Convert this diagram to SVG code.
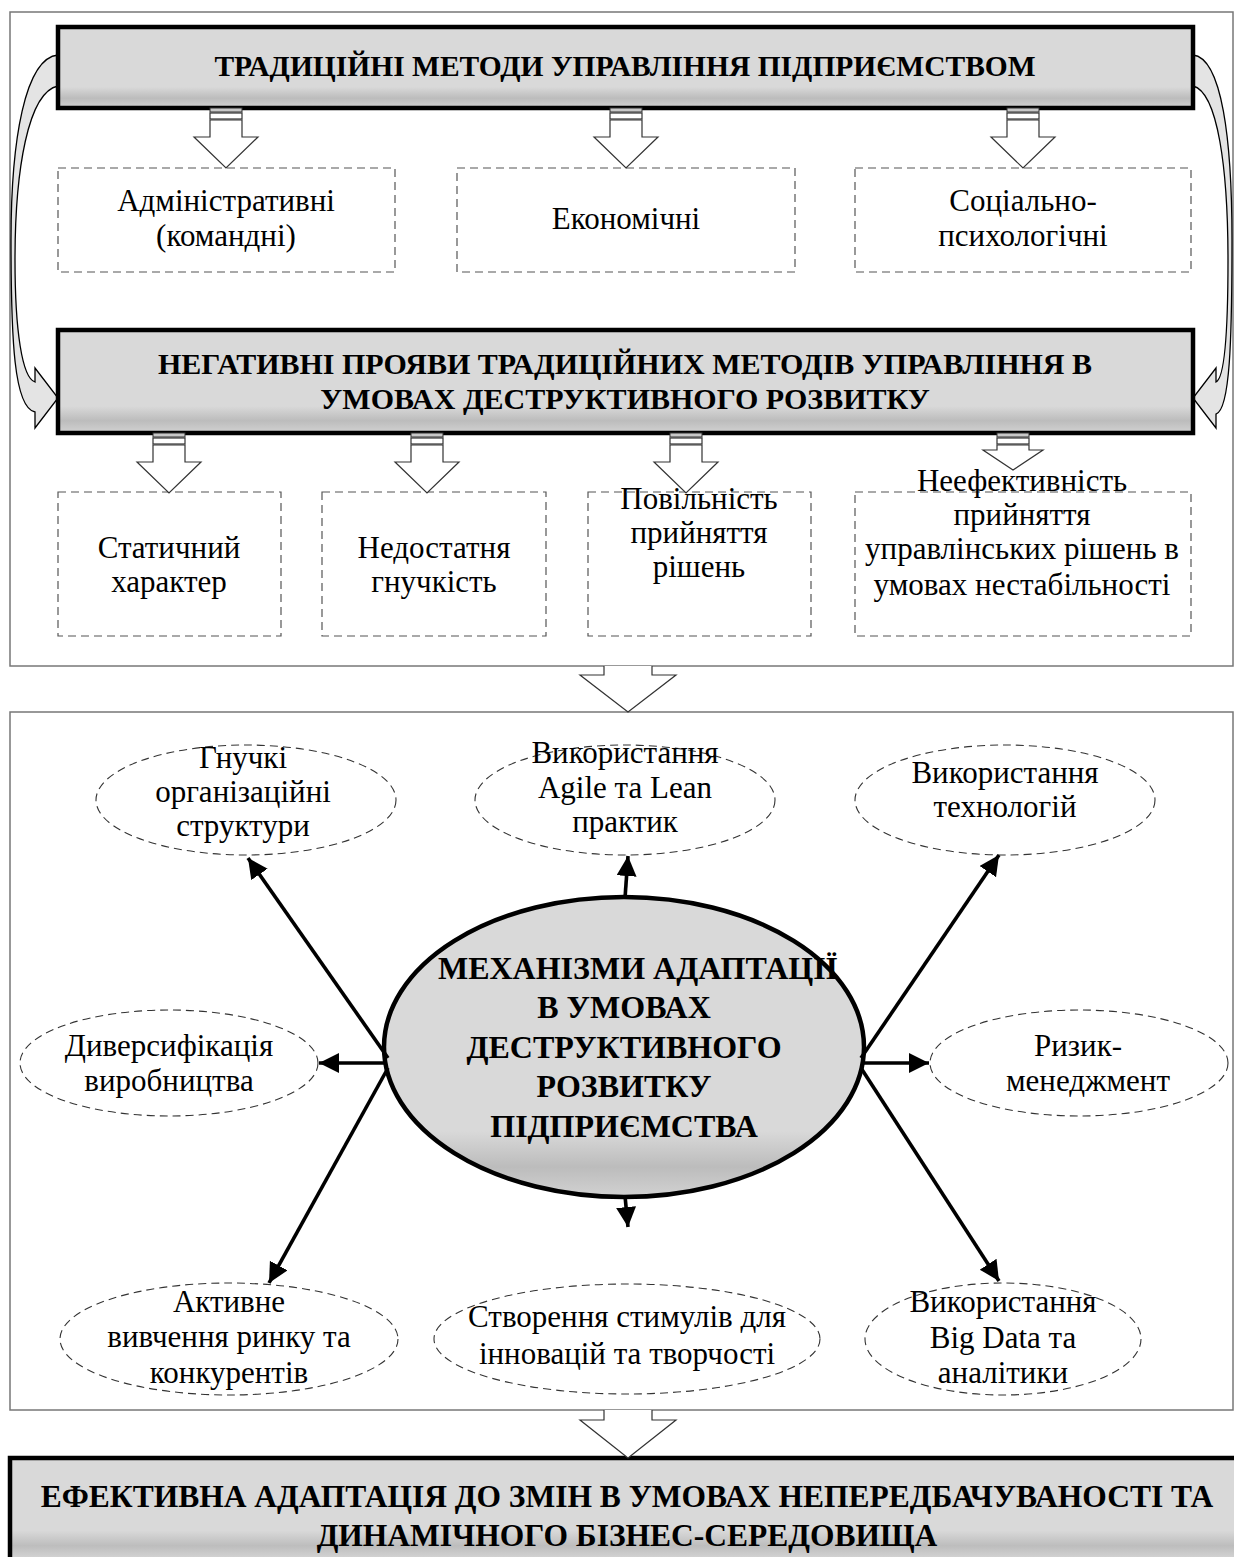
<svg xmlns="http://www.w3.org/2000/svg" width="1234" height="1557" viewBox="0 0 1234 1557">
  <defs>
    <style>
      text { font-family: "Liberation Serif", "Times New Roman", serif; fill: #000; text-anchor: middle; }
      .t { font-size: 31px; }
      .b { font-size: 29.5px; font-weight: bold; }
      .b2 { font-size: 30px; font-weight: bold; }
      .b3 { font-size: 32px; font-weight: bold; }
      .b4 { font-size: 31.5px; font-weight: bold; }
      .frame { fill: #fff; stroke: #777; stroke-width: 1.5; }
      .head { stroke: #000; stroke-width: 4.5; }
      .dbox { fill: #fff; stroke: #555; stroke-width: 1.2; stroke-dasharray: 8 5; }
      .dell { fill: #fff; stroke: #333; stroke-width: 1.1; stroke-dasharray: 8 5; }
      .blk { fill: #fff; stroke: #333; stroke-width: 1.2; stroke-linejoin: miter; }
      .stub { fill: #c8c8c8; stroke: #333; stroke-width: 1; }
      .ray { stroke: #000; stroke-width: 3.6; fill: none; marker-end: url(#tip); }
      .bend { fill: #e4e4e4; stroke: #000; stroke-width: 1.3; }
    </style>
    <linearGradient id="shade" x1="0" y1="0" x2="0" y2="1">
      <stop offset="0" stop-color="#d9d9d9"/>
      <stop offset="0.74" stop-color="#d9d9d9"/>
      <stop offset="0.88" stop-color="#bcbcbc"/>
      <stop offset="1" stop-color="#d2d2d2"/>
    </linearGradient>
    <linearGradient id="shadeEll" x1="0" y1="0" x2="0" y2="1">
      <stop offset="0" stop-color="#d9d9d9"/>
      <stop offset="0.78" stop-color="#d9d9d9"/>
      <stop offset="0.9" stop-color="#bcbcbc"/>
      <stop offset="1" stop-color="#d2d2d2"/>
    </linearGradient>
    <linearGradient id="shadeBottom" x1="0" y1="0" x2="0" y2="1">
      <stop offset="0" stop-color="#d9d9d9"/>
      <stop offset="0.62" stop-color="#d9d9d9"/>
      <stop offset="0.75" stop-color="#bdbdbd"/>
      <stop offset="0.86" stop-color="#d4d4d4"/>
    </linearGradient>
    <marker id="tip" markerUnits="userSpaceOnUse" markerWidth="22" markerHeight="22" refX="20" refY="10" orient="auto">
      <path d="M0,0 L20,10 L0,20 Z" fill="#000"/>
    </marker>
    <!-- small hollow block arrow with its two stub bars, origin at top centre -->
    <g id="smallArrow">
      <rect class="stub" x="-16" y="0" width="32" height="4"/>
      <rect class="blk" x="-16" y="5" width="32" height="6"/>
      <path class="blk" d="M-16,12 L-16,29 L-32,29 L0,60 L32,29 L16,29 L16,12 Z"/>
    </g>
    <!-- shorter variant used above the four-line box -->
    <g id="smallArrowShort">
      <rect class="stub" x="-16" y="0" width="32" height="4"/>
      <rect class="blk" x="-16" y="5" width="32" height="6"/>
      <path class="blk" d="M-16,12 L-16,17 L-30,17 L0,37 L30,17 L16,17 L16,12 Z"/>
    </g>
  </defs>

  <rect width="1234" height="1557" fill="#fff"/>

  <!-- outer frames -->
  <rect class="frame" x="10" y="12" width="1223" height="654"/>
  <rect class="frame" x="10" y="712" width="1223" height="698"/>

  <!-- curved feedback arrows beside the upper blocks -->
  <g id="connectors-curved">
    <path class="bend" d="M58,55 C25,58 11,140 11,240 C11,340 14,408 35,412 L35,428 L58,398 L35,368 L35,382 C22,378 15,330 15,260 C15,170 28,92 58,86 Z"/>
    <path class="bend" d="M1193,55 C1222,58 1232,140 1232,240 C1232,340 1230,410 1216,414 L1216,428 L1193,398 L1216,368 L1216,382 C1225,378 1228,330 1228,260 C1228,170 1218,92 1193,86 Z"/>
  </g>

  <!-- header: traditional methods -->
  <g id="n-traditional">
    <rect class="head" x="58" y="27" width="1135" height="81" fill="url(#shade)"/>
    <text class="b" x="625" y="76">ТРАДИЦІЙНІ МЕТОДИ УПРАВЛІННЯ ПІДПРИЄМСТВОМ</text>
  </g>

  <g id="n-admin">
    <rect class="dbox" x="58" y="168" width="337" height="104"/>
    <text class="t" x="226" y="211">Адміністративні</text>
    <text class="t" x="226" y="246">(командні)</text>
  </g>
  <g id="n-econ">
    <rect class="dbox" x="457" y="168" width="338" height="104"/>
    <text class="t" x="626" y="229">Економічні</text>
  </g>
  <g id="n-social">
    <rect class="dbox" x="855" y="168" width="336" height="104"/>
    <text class="t" x="1023" y="211">Соціально-</text>
    <text class="t" x="1023" y="246">психологічні</text>
  </g>

  <!-- header: negative manifestations -->
  <g id="n-negative">
    <rect class="head" x="58" y="330" width="1135" height="103" fill="url(#shade)"/>
    <text class="b2" x="625" y="374">НЕГАТИВНІ ПРОЯВИ ТРАДИЦІЙНИХ МЕТОДІВ УПРАВЛІННЯ В</text>
    <text class="b2" x="625" y="409">УМОВАХ ДЕСТРУКТИВНОГО РОЗВИТКУ</text>
  </g>

  <g id="n-static">
    <rect class="dbox" x="58" y="492" width="223" height="144"/>
    <text class="t" x="169" y="558">Статичний</text>
    <text class="t" x="169" y="592">характер</text>
  </g>
  <g id="n-flex">
    <rect class="dbox" x="322" y="492" width="224" height="144"/>
    <text class="t" x="434" y="558">Недостатня</text>
    <text class="t" x="434" y="592">гнучкість</text>
  </g>
  <g id="n-slow">
    <rect class="dbox" x="588" y="492" width="223" height="144"/>
    <text class="t" x="699" y="509">Повільність</text>
    <text class="t" x="699" y="543">прийняття</text>
    <text class="t" x="699" y="577">рішень</text>
  </g>
  <g id="n-ineff">
    <rect class="dbox" x="855" y="492" width="336" height="144"/>
    <text class="t" x="1022" y="491">Неефективність</text>
    <text class="t" x="1022" y="525">прийняття</text>
    <text class="t" x="1022" y="559">управлінських рішень в</text>
    <text class="t" x="1022" y="595">умовах нестабільності</text>
  </g>

  <!-- central mechanism -->
  <g id="n-mechanisms">
    <ellipse cx="624" cy="1047" rx="240" ry="150" fill="url(#shadeEll)" stroke="#000" stroke-width="4.5"/>
    <text class="b3" x="638" y="979">МЕХАНІЗМИ АДАПТАЦІЇ</text>
    <text class="b3" x="624" y="1018">В УМОВАХ</text>
    <text class="b3" x="624" y="1058">ДЕСТРУКТИВНОГО</text>
    <text class="b3" x="624" y="1097">РОЗВИТКУ</text>
    <text class="b3" x="624" y="1137">ПІДПРИЄМСТВА</text>
  </g>

  <g id="n-structures">
    <ellipse class="dell" cx="246" cy="800" rx="150" ry="55"/>
    <text class="t" x="243" y="768">Гнучкі</text>
    <text class="t" x="243" y="802">організаційні</text>
    <text class="t" x="243" y="836">структури</text>
  </g>
  <g id="n-agile">
    <ellipse class="dell" cx="625" cy="800" rx="150" ry="55"/>
    <text class="t" x="625" y="763">Використання</text>
    <text class="t" x="625" y="798">Agile та Lean</text>
    <text class="t" x="625" y="832">практик</text>
  </g>
  <g id="n-tech">
    <ellipse class="dell" cx="1005" cy="800" rx="150" ry="55"/>
    <text class="t" x="1005" y="783">Використання</text>
    <text class="t" x="1005" y="817">технологій</text>
  </g>
  <g id="n-divers">
    <ellipse class="dell" cx="169" cy="1063" rx="149" ry="53"/>
    <text class="t" x="169" y="1056">Диверсифікація</text>
    <text class="t" x="169" y="1091">виробництва</text>
  </g>
  <g id="n-risk">
    <ellipse class="dell" cx="1079" cy="1063" rx="149" ry="53"/>
    <text class="t" x="1078" y="1056">Ризик-</text>
    <text class="t" x="1088" y="1091">менеджмент</text>
  </g>
  <g id="n-market">
    <ellipse class="dell" cx="229" cy="1339" rx="169" ry="56"/>
    <text class="t" x="229" y="1312">Активне</text>
    <text class="t" x="229" y="1347">вивчення ринку та</text>
    <text class="t" x="229" y="1383">конкурентів</text>
  </g>
  <g id="n-incentives">
    <ellipse class="dell" cx="627" cy="1339" rx="193" ry="55"/>
    <text class="t" x="627" y="1327">Створення стимулів для</text>
    <text class="t" x="627" y="1364">інновацій та творчості</text>
  </g>
  <g id="n-bigdata">
    <ellipse class="dell" cx="1003" cy="1339" rx="138" ry="56"/>
    <text class="t" x="1003" y="1312">Використання</text>
    <text class="t" x="1003" y="1348">Big Data та</text>
    <text class="t" x="1003" y="1383">аналітики</text>
  </g>

  <!-- result -->
  <g id="n-result">
    <rect class="head" x="10" y="1458" width="1232" height="117" fill="url(#shadeBottom)"/>
    <text class="b4" x="627" y="1507">ЕФЕКТИВНА АДАПТАЦІЯ ДО ЗМІН В УМОВАХ НЕПЕРЕДБАЧУВАНОСТІ ТА</text>
    <text class="b4" x="627" y="1546">ДИНАМІЧНОГО БІЗНЕС-СЕРЕДОВИЩА</text>
  </g>

  <!-- straight connectors -->
  <g id="connectors">
    <use href="#smallArrow" x="226" y="108"/>
    <use href="#smallArrow" x="626" y="108"/>
    <use href="#smallArrow" x="1023" y="108"/>
    <use href="#smallArrow" x="169" y="433"/>
    <use href="#smallArrow" x="427" y="433"/>
    <use href="#smallArrow" x="686" y="433"/>
    <use href="#smallArrowShort" x="1013" y="433"/>

    <path class="blk" d="M604,666 L604,675 L580,675 L628,712 L676,675 L652,675 L652,666"/>
    <path class="blk" d="M604,1410 L604,1420 L580,1420 L628,1458 L676,1420 L652,1420 L652,1410"/>

    <line class="ray" x1="388" y1="1058" x2="248" y2="858"/>
    <line class="ray" x1="625" y1="898" x2="628" y2="856"/>
    <line class="ray" x1="861" y1="1058" x2="999" y2="855"/>
    <line class="ray" x1="385" y1="1063" x2="319" y2="1063"/>
    <line class="ray" x1="862" y1="1063" x2="929" y2="1063"/>
    <line class="ray" x1="388" y1="1068" x2="269" y2="1283"/>
    <line class="ray" x1="625" y1="1196" x2="628" y2="1227"/>
    <line class="ray" x1="861" y1="1068" x2="999" y2="1281"/>
  </g>
</svg>
